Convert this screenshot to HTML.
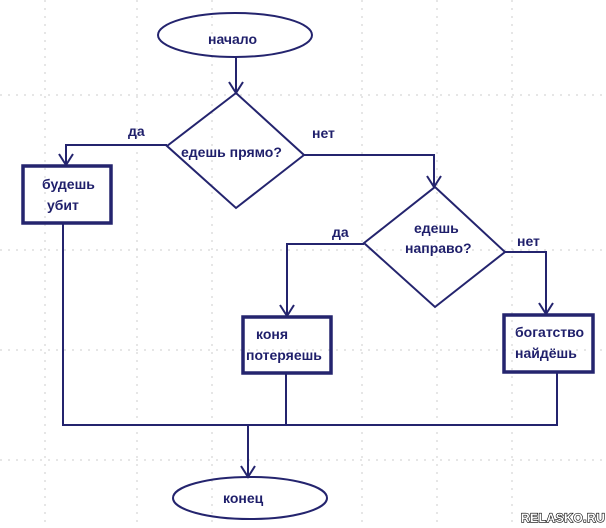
<!DOCTYPE html>
<html><head><meta charset="utf-8"><style>
html,body{margin:0;padding:0;background:#fff;}
svg{display:block;}
text{font-family:"Liberation Sans",sans-serif;font-weight:bold;font-size:14px;fill:#1f1f6b;}
</style></head><body>
<svg width="606" height="528" viewBox="0 0 606 528" xmlns="http://www.w3.org/2000/svg">
<g stroke="#ccc" stroke-width="1" stroke-dasharray="2 6" fill="none">
<line x1="45" y1="0" x2="45" y2="528"/><line x1="137" y1="0" x2="137" y2="528"/>
<line x1="212" y1="0" x2="212" y2="528"/><line x1="362" y1="0" x2="362" y2="528"/>
<line x1="437" y1="0" x2="437" y2="528"/><line x1="512" y1="0" x2="512" y2="528"/>
<line x1="0" y1="95" x2="606" y2="95"/><line x1="0" y1="250" x2="606" y2="250"/>
<line x1="0" y1="350" x2="606" y2="350"/><line x1="0" y1="460" x2="606" y2="460"/>
</g>
<g stroke="#24246e" fill="none" stroke-width="2">
<ellipse cx="235" cy="35" rx="77" ry="22"/>
<line x1="236" y1="57" x2="236" y2="93"/>
<polyline points="229,82 236,93 243,82"/>
<polygon points="236,93 304,155 236,208 167,146"/>
<polyline points="167,145 66,145 66,165"/>
<polyline points="59,154 66,165 73,154"/>
<polyline points="304,155 434,155 434,187"/>
<polyline points="427,176 434,187 441,176"/>
<polygon points="435,187 505,252 435,307 364,243"/>
<polyline points="364,244 287,244 287,316"/>
<polyline points="280,305 287,316 294,305"/>
<polyline points="505,252 546,252 546,314"/>
<polyline points="539,303 546,314 553,303"/>
<rect x="23" y="166" width="88" height="57" stroke-width="3.5"/>
<rect x="243" y="317" width="88" height="56" stroke-width="3.5"/>
<rect x="504" y="315" width="89" height="57" stroke-width="3.5"/>
<polyline points="63,223 63,425 557,425 557,372"/>
<line x1="286" y1="373" x2="286" y2="425"/>
<line x1="248" y1="425" x2="248" y2="477"/>
<polyline points="241,466 248,477 255,466"/>
<ellipse cx="250" cy="498" rx="77" ry="21"/>
</g>
<text x="208" y="44">начало</text>
<text x="181" y="157">едешь прямо?</text>
<text x="128" y="136">да</text>
<text x="312" y="138">нет</text>
<text x="42" y="189">будешь</text>
<text x="47" y="210">убит</text>
<text x="414" y="233">едешь</text>
<text x="405" y="253">направо?</text>
<text x="332" y="237">да</text>
<text x="517" y="246">нет</text>
<text x="256" y="339">коня</text>
<text x="246" y="360">потеряешь</text>
<text x="515" y="337">богатство</text>
<text x="515" y="358">найдёшь</text>
<text x="223" y="503">конец</text>
<text x="521" y="522" style="font-size:12px;fill:#fff;stroke:#000;stroke-width:1.2;paint-order:stroke;letter-spacing:0.5px">RELASKO.RU</text>
</svg>
</body></html>
